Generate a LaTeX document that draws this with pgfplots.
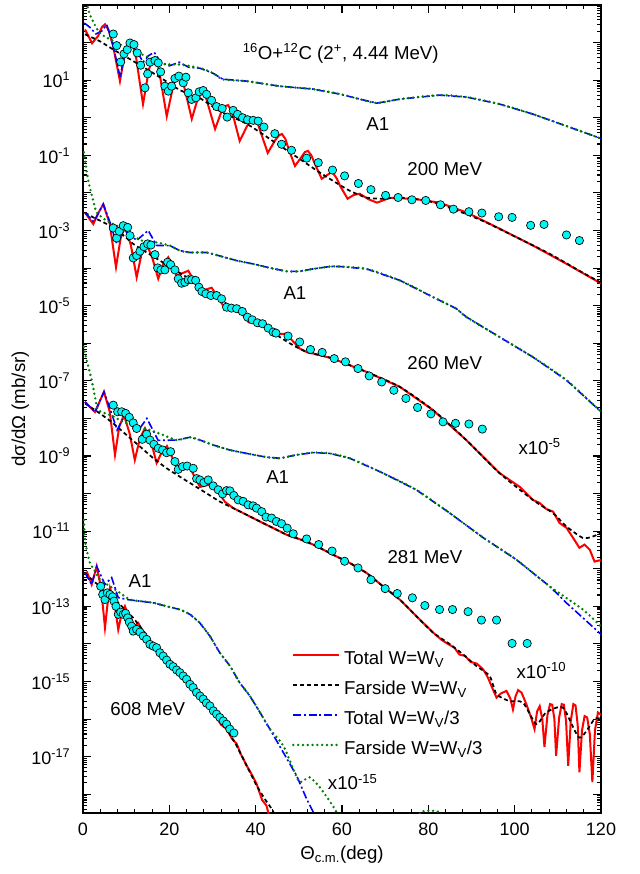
\documentclass[border=0pt]{standalone}
\usepackage{fontspec}
\setmainfont{Liberation Sans}
\usepackage{pgfplots}
\pgfplotsset{compat=1.18}
\definecolor{dgreen}{RGB}{0,128,0}
\definecolor{ptcyan}{RGB}{0,245,245}
\def\minorlist{}%
\foreach \e in {-19,...,2}{\foreach \m in {2,...,9}{\xdef\minorlist{\minorlist\m e\e,}}}%
\begin{document}%
\begin{tikzpicture}[font=\fontsize{14}{16}\selectfont]
\useasboundingbox (-62.25pt,-45.75pt) rectangle (417pt,609.75pt);
\begin{axis}[
  scale only axis, width=388.5pt, height=606pt,
  xmin=0, xmax=120, ymode=log, ymin=3.16e-19, ymax=1e3,
  xtick={0,20,...,120}, minor x tick num=4,
  ytick={1e-18,1e-17,1e-16,1e-15,1e-14,1e-13,1e-12,1e-11,1e-10,1e-9,1e-8,1e-7,1e-6,1e-5,1e-4,1e-3,1e-2,1e-1,1,1e1,1e2,1e3},
  yticklabels={,10\textsuperscript{-17},,10\textsuperscript{-15},,10\textsuperscript{-13},,10\textsuperscript{-11},,10\textsuperscript{-9},,10\textsuperscript{-7},,10\textsuperscript{-5},,10\textsuperscript{-3},,10\textsuperscript{-1},,10\textsuperscript{1},,},
  minor ytick/.expanded={\minorlist 9e2},
  tick align=inside, major tick length=6pt, minor tick length=3pt,
  every tick/.style={black, line width=0.8pt},
  axis line style={line width=1pt},
  /pgf/number format/assume math mode=true,
  tick label style={font=\fontsize{13.5}{15}\selectfont},
  xticklabel style={yshift=-4pt},
  yticklabel style={xshift=-6pt},
  label style={font=\fontsize{14}{16}\selectfont},
  xlabel={Θ\textsubscript{c.m.}(deg)},
  ylabel={dσ/dΩ (mb/sr)},
  every axis x label/.style={at={(axis description cs:0.5,-0.052)}, anchor=center},
  every axis y label/.style={at={(axis description cs:-0.121,0.5)}, rotate=90, anchor=center},
  legend image code/.code={\draw[#1] (0pt,4pt) -- (34pt,4pt);},
  legend cell align=left,
  legend style={at={(0.403,0.2017)}, anchor=north west, draw=none, fill=none, inner sep=0pt, row sep=7.5pt, column sep=2pt, font=\fontsize{14}{16}\selectfont, nodes={text height=10pt, text depth=3pt, inner sep=1pt}},
  sm/.style={smooth, tension=0.4},
]
\addlegendimage{red, line width=1.5pt}
\addlegendentry{Total W=W\textsubscript{V}}
\addlegendimage{black, line width=1.3pt, dash pattern=on 3pt off 2.2pt}
\addlegendentry{Farside W=W\textsubscript{V}}
\addlegendimage{blue, line width=1.2pt, dash pattern=on 6pt off 2pt on 1.5pt off 2pt}
\addlegendentry{Total W=W\textsubscript{V}/3}
\addlegendimage{dgreen, line width=2pt, line cap=round, dash pattern=on 0pt off 3.6pt}
\addlegendentry{Farside W=W\textsubscript{V}/3}

% ===== 200 MeV =====
\addplot[forget plot, red, line width=1.5pt] coordinates {(0.46,224)(2.1,96)(3.5,150)(4.4,260)(5.1,306)(5.9,220)(6.9,90)(8.56,9.4)(9.8,60)(10.4,95)(10.9,108)(11.5,90)(12.3,40)(13.9,2.3)(15.3,20)(16.1,32)(16.7,36)(17.3,28)(18.0,10)(19.4,1.1)(21.0,8)(21.8,11.5)(22.5,12.8)(23.1,10)(23.9,4)(25.2,0.93)(26.5,3)(27.2,4.1)(27.8,4.5)(28.5,3.4)(29.2,1.8)(30.6,0.50)(32.1,1.5)(33.0,2.05)(33.6,2.17)(34.3,1.6)(35.0,0.9)(36.3,0.24)(38.0,0.6)(38.9,0.9)(39.6,0.98)(40.4,0.75)(41.2,0.4)(42.8,0.116)(44.5,0.25)(45.4,0.34)(46.1,0.37)(46.9,0.27)(47.6,0.15)(49.1,0.052)(50.6,0.09)(51.4,0.122)(52.1,0.131)(52.9,0.1)(53.7,0.06)(55.3,0.0237)(56.6,0.03)(57.3,0.034)(57.9,0.034)(58.8,0.024)(59.6,0.015)(61.3,0.0070)(62.7,0.0088)(64.1,0.0095)(66.1,0.0068)(68.1,0.0055)(71.1,0.0074)(76.9,0.0069)(82.6,0.0055)(88.9,0.0030)(96.5,0.00112)(104.2,4.0e-4)(112.0,1.3e-4)(120,3.9e-5)};
\addplot[forget plot, sm, black, line width=1.3pt, dash pattern=on 3pt off 2.2pt] coordinates {(0.46,166)(3.94,108)(6.94,66)(10.9,36)(14.8,19.5)(18.5,10.6)(22.5,5.4)(27.1,3.3)(31.7,1.5)(38.0,0.68)(44.0,0.24)(50.2,0.080)(54.2,0.039)(57.9,0.021)(61.8,0.0114)(65.7,0.0075)(69.4,0.0070)(73.4,0.0075)(79.6,0.0062)(85.0,0.0040)(92.6,0.0018)(100.5,6.5e-4)(108.1,2.4e-4)(115.7,7.6e-5)(120,4.1e-5)};
\addplot[forget plot, blue, line width=1.2pt, dash pattern=on 6pt off 2pt on 1.5pt off 2pt] coordinates {(0.3,330)(1.5,260)(3.0,170)(4.3,200)(5.5,300)(7.0,80)(8.6,12)(9.8,60)(11.2,115)(12.5,60)(13.9,30)(15.2,45)(16.5,55)(18.0,30)(20,24)(22.3,30)(24.5,22)(27.1,20.8)(30.1,15.3)(32.4,10.6)(38.0,9.4)(45.6,6.9)(53.2,5.8)(59.5,4.26)(64.1,3.13)(68.1,2.45)(73.4,3.13)(82.6,4.0)(88.9,3.54)(96.5,2.31)(104.2,1.25)(112.0,0.60)(120,0.28)};
\addplot[forget plot, sm, dgreen, line width=2pt, line cap=round, dash pattern=on 0pt off 3.6pt] coordinates {(0.2,5000)(1.16,813)(2.31,367)(3.94,177)(6.25,122)(8.56,90)(11.6,59)(14.8,43)(18.5,27)(22.5,26)(27.1,21)(30.1,15.5)(32.4,10.5)(38.0,9.4)(45.6,6.9)(53.2,5.8)(59.5,4.26)(64.1,3.13)(68.1,2.45)(73.4,3.13)(82.6,4.0)(88.9,3.54)(96.5,2.31)(104.2,1.25)(112.0,0.60)(120,0.28)};

% ===== 260 MeV (x1e-5) =====
\addplot[forget plot, red, line width=1.5pt] coordinates {(0.46,3.0e-3)(2.38,1.48e-3)(3.6,3.0e-3)(4.7,5.0e-3)(6.2,1.5e-3)(7.64,1.05e-4)(8.7,6e-4)(9.72,1.35e-3)(11.1,4e-4)(12.43,5.7e-5)(13.6,2.5e-4)(14.75,4.4e-4)(16.1,1.8e-4)(17.43,5.2e-5)(18.6,1.3e-4)(19.75,1.94e-4)(20.8,1.1e-4)(21.7,6.3e-5)(24.4,8.5e-5)(27.1,2.4e-5)(29.8,3.0e-5)(32.6,9.5e-6)(35.4,9.5e-6)(38.4,3.6e-6)(41.2,3.8e-6)(44.2,1.7e-6)(47.0,1.8e-6)(50.2,7.2e-7)(51.8,5.85e-7)(54.9,4.8e-7)(57.9,3.9e-7)(65.7,1.72e-7)(73.4,6.9e-8)(81.1,1.66e-8)(88.8,2.65e-9)(96.5,3.5e-10)(101.2,1.5e-10)(104.2,6.8e-11)(105.8,5.6e-11)(107.3,3.9e-11)(108.9,3.3e-11)(110.4,1.64e-11)(112.0,1.23e-11)(113.5,6.7e-12)(115.0,3.6e-12)(116.2,4.4e-12)(117.4,3.2e-12)(118.5,1.55e-12)(120,1.7e-12)};
\addplot[forget plot, sm, black, line width=1.3pt, dash pattern=on 3pt off 2.2pt] coordinates {(0.46,2.97e-3)(2.38,2.23e-3)(5.49,1.49e-3)(8.56,8.9e-4)(11.64,4.4e-4)(14.75,2.6e-4)(17.82,1.58e-4)(20.9,9.5e-5)(24.0,5.7e-5)(27.1,3.1e-5)(30.2,1.86e-5)(33.3,1.12e-5)(36.3,6.7e-6)(39.4,4.0e-6)(42.5,2.7e-6)(45.6,1.46e-6)(48.7,8.8e-7)(51.8,5.85e-7)(54.9,4.8e-7)(57.9,3.9e-7)(65.7,1.72e-7)(73.4,6.9e-8)(81.1,1.66e-8)(88.8,2.65e-9)(96.5,3.5e-10)(104.2,6.8e-11)(108.9,3.0e-11)(112.0,1.33e-11)(115.8,6.6e-12)(118.1,7.2e-12)(120,9.0e-12)};
\addplot[forget plot, blue, line width=1.2pt, dash pattern=on 6pt off 2pt on 1.5pt off 2pt] coordinates {(0.46,3.0e-3)(2.5,1.7e-3)(4.7,5.0e-3)(6.3,1.6e-3)(7.8,4.4e-4)(9.5,1.0e-3)(10.9,8e-4)(12.4,5.4e-4)(15.1,1.0e-3)(17.06,4.0e-4)(20.14,3.95e-4)(22.45,2.9e-4)(24.77,2.6e-4)(28.6,2.6e-4)(31.7,2.1e-4)(35.6,1.58e-4)(39.4,1.29e-4)(43.3,1.01e-4)(47.2,8.2e-5)(50.2,8.2e-5)(53.3,9.5e-5)(57.2,1.1e-4)(59.5,1.1e-4)(65.7,9.5e-5)(73.4,4.7e-5)(81.5,1.6e-5)(86.5,8.3e-6)(88.8,5.0e-6)(96.5,1.46e-6)(104.2,4.3e-7)(112.0,1.04e-7)(120,1.5e-8)};
\addplot[forget plot, sm, dgreen, line width=2pt, line cap=round, dash pattern=on 0pt off 3.6pt] coordinates {(0.2,0.12)(1.23,0.021)(2.38,6.2e-3)(3.17,3.0e-3)(5.49,1.82e-3)(8.56,1.21e-3)(10.88,8.1e-4)(13.59,5.4e-4)(17.06,4.8e-4)(20.14,3.95e-4)(22.45,2.9e-4)(24.77,2.6e-4)(28.6,2.6e-4)(31.7,2.1e-4)(35.6,1.58e-4)(39.4,1.29e-4)(43.3,1.01e-4)(47.2,8.2e-5)(50.2,8.2e-5)(53.3,9.5e-5)(57.2,1.1e-4)(59.5,1.1e-4)(65.7,9.5e-5)(73.4,4.7e-5)(81.5,1.6e-5)(86.5,8.3e-6)(88.8,5.0e-6)(96.5,1.46e-6)(104.2,4.3e-7)(112.0,1.04e-7)(120,1.5e-8)};

% ===== 281 MeV (x1e-10) =====
\addplot[forget plot, red, line width=1.5pt] coordinates {(0.46,2.75e-8)(2.78,1.48e-8)(4.86,5.1e-8)(6.2,1.5e-8)(7.41,1.07e-9)(8.4,6e-9)(9.49,1.23e-8)(10.8,4e-9)(12.0,7.8e-10)(13.2,3e-9)(14.35,5.5e-9)(15.7,2.5e-9)(17.06,6.5e-10)(18.3,1.3e-9)(19.44,1.84e-9)(20.7,9e-10)(22.0,4.3e-10)(24.8,4.8e-10)(27.1,1.5e-10)(29.9,1.8e-10)(32.9,6.0e-11)(34.8,4.1e-11)(37.9,2.72e-11)(41.0,1.8e-11)(44.1,1.2e-11)(47.2,8.0e-12)(50.2,6.1e-12)(53.3,4.4e-12)(57.9,2.37e-12)(61.8,1.42e-12)(65.7,7.7e-13)(69.5,3.4e-13)(73.4,1.5e-13)(77.2,5.5e-14)(81.1,2.0e-14)(83.0,1.3e-14)(84.5,1.0e-14)(86.0,8.0e-15)(87.2,5.2e-15)(88.5,4.8e-15)(89.8,3.3e-15)(91.2,3.0e-15)(92.7,2.1e-15)(93.8,1.27e-15)(95.0,6e-16)(95.8,3.7e-16)(96.8,4.8e-16)(98.1,5.6e-16)(99.0,3.5e-16)(99.6,1.8e-16)(100.2,4e-16)(100.8,5.9e-16)(101.6,5e-16)(102.7,2.5e-16)(103.8,1.1e-16)(104.6,5.4e-17)(105.2,1.6e-16)(105.8,2.2e-16)(106.4,1.0e-16)(106.9,1.8e-17)(107.6,1.3e-16)(108.2,2.5e-16)(108.7,2.4e-16)(109.2,1.0e-16)(109.6,1.05e-17)(110.3,1.1e-16)(110.9,2.5e-16)(111.4,2.4e-16)(111.9,9e-17)(112.4,5.7e-18)(113.0,9e-17)(113.6,2.5e-16)(114.1,2.3e-16)(114.6,7e-17)(115.0,3.8e-18)(115.6,5e-17)(116.2,1.2e-16)(116.8,1.1e-16)(117.4,4e-17)(118.0,2.1e-18)(118.6,5e-17)(119.3,1.5e-16)(120,1.3e-16)};
\addplot[forget plot, sm, black, line width=1.3pt, dash pattern=on 3pt off 2.2pt] coordinates {(0.46,2.5e-8)(3.94,1.35e-8)(7.0,7.4e-9)(10.1,3.6e-9)(13.2,1.78e-9)(16.3,8.7e-10)(19.4,4.7e-10)(22.45,2.8e-10)(25.5,1.7e-10)(28.6,1.02e-10)(31.7,6.1e-11)(34.8,4.1e-11)(37.9,2.72e-11)(41.0,1.8e-11)(44.1,1.2e-11)(47.2,8.0e-12)(50.2,6.1e-12)(53.3,4.4e-12)(57.9,2.37e-12)(61.8,1.42e-12)(65.7,7.7e-13)(69.5,3.4e-13)(73.4,1.5e-13)(77.2,5.5e-14)(81.1,2.0e-14)(85.0,9.8e-15)(88.0,5.3e-15)(91.1,2.6e-15)(94.2,1.4e-15)(95.8,4.6e-16)(98.8,3.0e-16)(101.9,2.75e-16)(105.0,7.3e-17)(107.3,1.5e-16)(111.2,2.0e-16)(115.0,3.2e-17)(118.5,1.0e-16)(120,1.0e-16)};
\addplot[forget plot, blue, line width=1.2pt, dash pattern=on 6pt off 2pt on 1.5pt off 2pt] coordinates {(0.46,2.75e-8)(2.78,1.48e-8)(4.86,5.1e-8)(6.5,1.5e-8)(7.9,4.9e-9)(9.8,1.3e-8)(12.4,4.1e-9)(14.8,1.0e-8)(17.4,2.6e-9)(21.7,2.65e-9)(24.8,3.15e-9)(27.1,2.65e-9)(30.2,1.95e-9)(34.0,1.44e-9)(37.9,1.17e-9)(42.5,9.3e-10)(45.6,8.7e-10)(49.5,1.07e-9)(53.3,1.23e-9)(57.2,1.17e-9)(61.8,8.7e-10)(69.5,3.5e-10)(77.2,1.26e-10)(85.0,3.0e-11)(92.7,6.7e-12)(100.4,1.74e-12)(108.1,3.4e-13)(112.0,1.23e-13)(120,1.8e-14)};
\addplot[forget plot, sm, dgreen, line width=2pt, line cap=round, dash pattern=on 0pt off 3.6pt] coordinates {(0.2,8e-7)(0.86,3.5e-7)(2.01,1.05e-7)(2.78,3.7e-8)(3.54,1.66e-8)(6.25,1.23e-8)(9.33,8.1e-9)(12.4,6.0e-9)(15.5,4.9e-9)(18.6,3.6e-9)(21.7,2.65e-9)(24.8,3.15e-9)(27.1,2.65e-9)(30.2,1.95e-9)(34.0,1.44e-9)(37.9,1.17e-9)(42.5,9.3e-10)(45.6,8.7e-10)(49.5,1.07e-9)(53.3,1.23e-9)(57.2,1.17e-9)(61.8,8.7e-10)(69.5,3.5e-10)(77.2,1.26e-10)(85.0,3.0e-11)(92.7,6.7e-12)(100.4,1.74e-12)(108.1,3.4e-13)(115.8,8.2e-14)(120,2.9e-14)};

% ===== 608 MeV (x1e-15) =====
\addplot[forget plot, red, line width=1.5pt] coordinates {(0.86,8.5e-13)(2.01,3.8e-13)(3.17,1.16e-12)(4.2,3e-13)(5.09,2.7e-14)(5.7,1.2e-13)(6.25,3.1e-13)(7.3,1.2e-13)(8.17,2.4e-14)(8.9,6e-14)(9.72,1.0e-13)(10.6,5e-14)(11.27,2.0e-14)(12.0,3e-14)(12.8,3.6e-14)(14.75,1.4e-14)(18.59,5.0e-15)(22.45,1.6e-15)(26.3,5.0e-16)(30.2,1.5e-16)(32.0,7e-17)(33.26,5.5e-17)(34.5,3e-17)(35.6,2.2e-17)(36.5,1.2e-17)(37.9,5.8e-18)(39.0,3.5e-18)(40.2,1.9e-18)(41.5,7e-19)(42.5,5e-19)(43.4,2e-19)};
\addplot[forget plot, black, line width=1.3pt, dash pattern=on 3pt off 2.2pt] coordinates {(0.46,7.8e-13)(2.38,4.7e-13)(5.49,2.5e-13)(8.56,1.12e-13)(11.64,4.95e-14)(14.75,1.7e-14)(18.59,5.0e-15)(22.45,1.6e-15)(26.3,5.0e-16)(30.2,1.5e-16)(33.26,5.5e-17)(35.6,1.95e-17)(37.9,5.8e-18)(40.2,1.7e-18)(42.1,7.5e-19)(43.7,4.1e-19)(45.6,1.6e-19)};
\addplot[forget plot, blue, line width=1.2pt, dash pattern=on 6pt off 2pt on 1.5pt off 2pt] coordinates {(0.46,7.8e-13)(2.01,3.8e-13)(3.17,1.16e-12)(5.09,3.8e-13)(6.64,5.8e-13)(8.17,1.7e-13)(10.5,1.5e-13)(13.19,1.37e-13)(16.27,1.24e-13)(19.38,1.0e-13)(22.45,8.2e-14)(24.77,6.1e-14)(27.08,3.6e-14)(29.4,1.61e-14)(31.7,5.8e-15)(34.03,2.6e-15)(36.3,9.3e-16)(38.66,4.1e-16)(41.0,1.5e-16)(43.3,5.4e-17)(46.4,1.29e-17)(49.5,3.1e-18)(51.8,7.5e-19)(53.3,3.4e-19)(55.0,1.2e-19)};
\addplot[forget plot, sm, dgreen, line width=2pt, line cap=round, dash pattern=on 0pt off 3.6pt] coordinates {(0.2,2e-11)(0.46,5.9e-12)(0.86,3.2e-12)(1.62,1.43e-12)(2.78,8.5e-13)(3.94,5.1e-13)(6.25,3.4e-13)(8.56,2.28e-13)(10.88,1.51e-13)(13.19,1.37e-13)(16.27,1.24e-13)(19.38,1.0e-13)(22.45,8.2e-14)(24.77,6.1e-14)(27.08,3.6e-14)(29.4,1.61e-14)(31.7,5.8e-15)(34.03,2.6e-15)(36.3,9.3e-16)(38.66,4.1e-16)(41.0,1.5e-16)(43.3,5.4e-17)(46.4,1.95e-17)(48.7,4.7e-18)(50.2,2.1e-18)(52.5,2.8e-18)(54.9,1.5e-18)(58.3,4.1e-19)(60.6,1.2e-19)};
\addplot[forget plot, dgreen, line width=2pt, line cap=round, dash pattern=on 0pt off 3.6pt] coordinates {(76,1.5e-19)(78.5,3.5e-19)(80.5,3.7e-19)(82.5,3.4e-19)(84,1.5e-19)};

% ===== data points =====
\pgfplotsset{datapts/.style={forget plot, only marks, mark=*, mark size=3.1pt, mark options={fill=ptcyan, draw=black, line width=0.5pt}}}
\addplot[datapts] coordinates {(7.01,169)(7.80,83)(8.73,30.5)(9.49,49.9)(10.25,65)(10.88,97.5)(11.81,88.5)(12.57,53)(13.36,25)(14.35,6.25)(14.98,14.7)(15.51,30)(16.67,33.3)(17.43,28.8)(17.99,16.6)(18.98,6.9)(19.75,5.1)(20.53,6.9)(21.30,11.1)(22.22,12.8)(23.22,8.5)(23.84,12.0)(24.38,4.6)(25.16,3.07)(26.16,3.40)(26.92,4.9)(27.85,5.3)(28.63,4.2)(29.79,2.9)(30.95,1.98)(32.25,1.77)(33.40,1.04)(34.79,1.57)(35.81,1.23)(36.97,1.0)(38.13,0.885)(39.42,0.853)(40.58,0.817)(41.90,0.567)(44.44,0.376)(46.0,0.197)(48.3,0.136)(51.8,0.084)(54.5,0.064)(57.8,0.0405)(60.6,0.0284)(63.8,0.0178)(66.7,0.0122)(70.1,0.0086)(73.0,0.00755)(76.2,0.00656)(79.4,0.0063)(82.8,0.00483)(85.8,0.0037)(89.4,0.00316)(92.4,0.00291)(96.3,0.00232)(99.4,0.00223)(103.7,0.00137)(106.8,0.00145)(112.0,7.6e-4)(115.0,5.4e-4)};
\addplot[datapts] coordinates {(7.01,1.16e-3)(7.80,6.3e-4)(8.40,9.5e-4)(9.33,1.34e-3)(10.35,1.21e-3)(10.88,7.3e-4)(11.64,1.86e-4)(12.43,2.15e-4)(13.19,2.8e-4)(14.12,3.7e-4)(14.98,4.4e-4)(15.74,4.1e-4)(16.67,2.28e-4)(17.29,1.01e-4)(18.06,8.95e-5)(18.98,8.95e-5)(19.61,1.43e-4)(20.30,1.24e-4)(21.30,8.95e-5)(22.06,5.2e-5)(22.85,3.95e-5)(23.61,4.2e-5)(24.38,4.9e-5)(25.16,4.9e-5)(26.09,4.7e-5)(26.85,3.1e-5)(27.55,2.38e-5)(28.47,2.07e-5)(29.63,1.86e-5)(30.95,1.86e-5)(32.1,1.52e-5)(33.26,9.1e-6)(34.4,8.6e-6)(35.6,8.3e-6)(36.9,7.0e-6)(38.1,4.95e-6)(39.2,4.2e-6)(40.4,3.5e-6)(41.6,3.3e-6)(42.9,2.53e-6)(44.05,1.98e-6)(44.7,1.86e-6)(47.5,1.55e-6)(50.2,1.08e-6)(52.7,6.8e-7)(55.4,5.7e-7)(58.2,3.9e-7)(60.8,3.2e-7)(63.7,2.12e-7)(66.3,1.35e-7)(69.2,9.3e-8)(72.0,5.6e-8)(74.8,3.4e-8)(77.5,1.95e-8)(80.6,1.32e-8)(83.4,8.1e-9)(86.3,7.4e-9)(89.4,7.1e-9)(92.5,5.2e-9)};
\addplot[datapts] coordinates {(7.01,2.25e-8)(8.03,1.5e-8)(8.96,1.5e-8)(9.88,1.36e-8)(10.72,1.07e-8)(11.64,7.6e-9)(12.43,5.4e-9)(13.73,2.77e-9)(14.75,3.8e-9)(15.51,2.65e-9)(16.43,2.04e-9)(17.43,1.6e-9)(18.45,1.44e-9)(19.38,1.22e-9)(20.30,1.3e-9)(21.30,7.1e-10)(22.06,4.4e-10)(23.08,5.2e-10)(24.14,5.4e-10)(25.53,4.7e-10)(26.32,2.5e-10)(27.08,2.3e-10)(28.0,1.96e-10)(29.0,2.3e-10)(30.16,1.6e-10)(31.32,1.26e-10)(32.34,9.8e-11)(33.26,1.2e-10)(34.03,1.18e-10)(34.95,8.9e-11)(35.95,6.8e-11)(37.1,6.2e-11)(38.26,5.0e-11)(39.4,4.7e-11)(40.2,4.1e-11)(41.4,3.3e-11)(42.4,2.37e-11)(43.7,2.23e-11)(44.8,1.81e-11)(46.0,1.58e-11)(47.3,1.2e-11)(48.7,8.5e-12)(51.8,6.2e-12)(54.6,4.4e-12)(57.7,2.95e-12)(60.6,1.58e-12)(63.7,1.05e-12)(66.7,5.1e-13)(70.0,2.95e-13)(72.8,2.19e-13)(76.3,1.68e-13)(79.2,1.05e-13)(82.6,8.2e-14)(85.6,8.2e-14)(89.2,7.2e-14)(92.3,4.3e-14)(95.8,4.3e-14)(99.4,1.03e-14)(102.9,1.03e-14)};
\addplot[datapts] coordinates {(4.10,3.4e-13)(4.56,2.06e-13)(5.09,1.51e-13)(5.63,2.28e-13)(6.25,2.06e-13)(6.88,1.79e-13)(7.18,1.37e-13)(7.64,1.0e-13)(8.17,6.1e-14)(8.73,7.0e-14)(9.33,6.1e-14)(9.88,6.5e-14)(10.35,4.95e-14)(10.72,3.8e-14)(11.27,2.95e-14)(11.64,2.19e-14)(12.43,2.43e-14)(13.19,2.06e-14)(13.96,1.61e-14)(14.75,1.32e-14)(15.51,9.7e-15)(16.27,8.7e-15)(17.06,7.9e-15)(17.82,5.8e-15)(18.59,4.75e-15)(19.38,3.7e-15)(20.14,2.86e-15)(20.90,2.48e-15)(21.69,2.02e-15)(22.45,1.72e-15)(23.22,1.4e-15)(24.0,1.14e-15)(24.77,8.4e-16)(25.5,6.9e-16)(26.3,5.1e-16)(27.1,4.1e-16)(27.85,3.4e-16)(28.6,2.65e-16)(29.4,2.24e-16)(30.2,1.65e-16)(30.95,1.35e-16)(31.7,1.1e-16)(32.5,8.9e-17)(33.26,7.3e-17)(34.0,5.4e-17)(34.95,4.25e-17)};

% ===== annotations =====
\node at (axis cs:59.7,52) {\textsuperscript{16}O+\textsuperscript{12}C (2\textsuperscript{+}, 4.44 MeV)};
\node at (axis cs:68.3,0.68) {A1};
\node at (axis cs:49.1,2.1e-5) {A1};
\node at (axis cs:45.1,2.8e-10) {A1};
\node at (axis cs:13.2,4.6e-13) {A1};
\node at (axis cs:83.8,0.044) {200 MeV};
\node at (axis cs:83.8,2.95e-7) {260 MeV};
\node at (axis cs:105.8,1.74e-9) {x10\textsuperscript{-5}};
\node at (axis cs:79.2,2.1e-12) {281 MeV};
\node at (axis cs:106.2,1.9e-15) {x10\textsuperscript{-10}};
\node at (axis cs:15.0,1.8e-16) {608 MeV};
\node at (axis cs:62.5,2.1e-18) {x10\textsuperscript{-15}};
\end{axis}
\end{tikzpicture}%
\end{document}
